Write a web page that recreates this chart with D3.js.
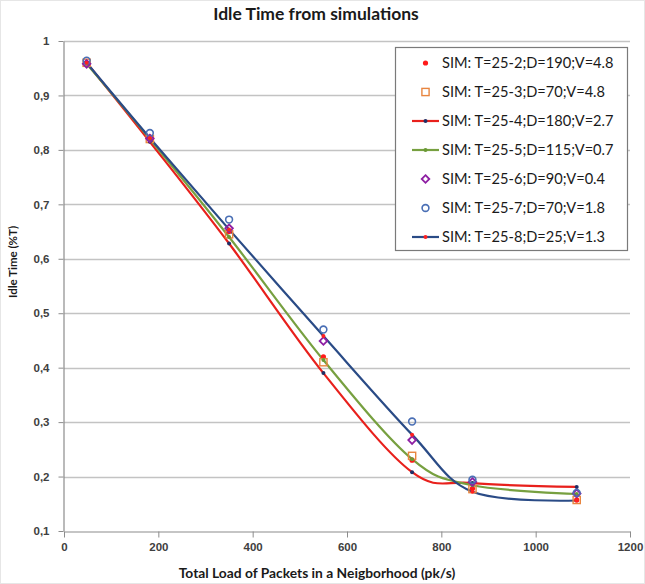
<!DOCTYPE html>
<html>
<head>
<meta charset="utf-8">
<script src="https://cdn.jsdelivr.net/npm/d3@7"></script>
<style>
  body { margin: 0; background: #fff; }
  svg { font-family: Lato, "Open Sans", sans-serif; }
</style>
</head>
<body>
<svg id="chart"></svg>
<script>
width = 645;
height = 584;
margin = ({ top: 41, right: 15, bottom: 53, left: 64 })

// loads (pk/s) at which the simulations were run
const loads = [48, 182, 350, 550, 738, 866, 1087];
const xTicks = [0, 200, 400, 600, 800, 1000, 1200];
const yTicks = [0.1, 0.2, 0.3, 0.4, 0.5, 0.6, 0.7, 0.8, 0.9, 1];

const names = [
    "SIM: T=25-2;D=190;V=4.8",
    "SIM: T=25-3;D=70;V=4.8",
    "SIM: T=25-4;D=180;V=2.7",
    "SIM: T=25-5;D=115;V=0.7",
    "SIM: T=25-6;D=90;V=0.4",
    "SIM: T=25-7;D=70;V=1.8",
    "SIM: T=25-8;D=25;V=1.3"
];

const sim2 = [0.96, 0.819, 0.65, 0.42, 0.23, 0.178, 0.157];
const sim3 = [0.96, 0.82, 0.645, 0.41, 0.238, 0.177, 0.157];
const sim4 = [0.96, 0.815, 0.628, 0.39, 0.208, 0.188, 0.181];
const sim5 = [0.958, 0.82, 0.64, 0.414, 0.232, 0.184, 0.168];
const sim6 = [0.958, 0.821, 0.656, 0.449, 0.267, 0.19, 0.169];
const sim7 = [0.964, 0.831, 0.672, 0.47, 0.301, 0.194, 0.17];
const sim8 = [0.96, 0.822, 0.654, 0.458, 0.277, 0.172, 0.156];

// how each series is drawn (line colour, marker type, marker colour)
const styles = [
    { line: null, marker: "dot", color: "#ff1a1a", r: 2.6 },
    { line: null, marker: "square", color: "#e8853f", r: 3.6 },
    { line: "#e8201c", marker: "dot", color: "#1f2f66", r: 2 },
    { line: "#77a040", marker: "dot", color: "#6a9a35", r: 2 },
    { line: null, marker: "diamond", color: "#8e1fa3", r: 3.8 },
    { line: null, marker: "circle", color: "#4a6fb5", r: 3.4 },
    { line: "#2a4b86", marker: "dot", color: "#ff2020", r: 2 }
];

const series = [sim2, sim3, sim4, sim5, sim6, sim7, sim8].map((vals, i) => ({
    name: names[i],
    style: styles[i],
    values: vals.map((v, j) => ({ x: loads[j], y: v }))
}));

const svg = d3.select("#chart")
    .attr("width", width)
    .attr("height", height);

x = d3.scaleLinear()
    .domain([0, 1200])
    .range([margin.left, width - margin.right])

y = d3.scaleLinear()
    .domain([0.1, 1])
    .range([height - margin.bottom, margin.top])

const fmt = d => d === 1 ? "1" : d.toFixed(1).replace(".", ",");

// faint outer frame
svg.append("rect")
    .attr("x", 0.5).attr("y", 0.5)
    .attr("width", width - 1).attr("height", height - 1)
    .attr("fill", "none")
    .attr("stroke", "#e6e6e6");

// gridlines
svg.append("g")
    .selectAll("line")
    .data(yTicks.slice(1))
    .join("line")
    .attr("x1", margin.left)
    .attr("x2", width - margin.right)
    .attr("y1", d => Math.round(y(d)) + 0.5)
    .attr("y2", d => Math.round(y(d)) + 0.5)
    .attr("stroke", "#c3c3c3")
    .attr("stroke-width", 1.3);

// x axis
xAxis = g =>
    g
        .attr("transform", `translate(0, ${Math.round(y(0.1)) + 0.5})`)
        .call(d3.axisBottom(x).tickValues(xTicks).tickFormat(d3.format("d")).tickSize(6).tickSizeOuter(0).tickPadding(5))
        .call(g => g.select(".domain").attr("stroke", "#8c8c8c").attr("stroke-width", 1.2))
        .call(g => g.selectAll(".tick line").attr("stroke", "#8c8c8c"))
        .call(g => g.selectAll(".tick text")
            .attr("fill", "#404040")
            .attr("font-size", 11.5)
            .attr("font-weight", "bold"))

yAxis = g =>
    g
        .attr("transform", `translate(${margin.left - 0.5}, 0)`)
        .call(d3.axisLeft(y).tickValues(yTicks).tickFormat(fmt).tickSize(5).tickSizeOuter(0).tickPadding(9))
        .call(g => g.select(".domain").attr("stroke", "#8c8c8c").attr("stroke-width", 1.2))
        .call(g => g.selectAll(".tick line").attr("stroke", "#8c8c8c"))
        .call(g => g.selectAll(".tick text")
            .attr("fill", "#404040")
            .attr("font-size", 11.5)
            .attr("font-weight", "bold"))

svg.append("g").call(xAxis);
svg.append("g").call(yAxis);

// lines (Excel-style smoothed)
const line = d3.line()
    .x(d => x(d.x))
    .y(d => y(d.y))
    .curve(d3.curveCatmullRom.alpha(0));

svg.append("g")
    .selectAll("path")
    .data(series.filter(s => s.style.line))
    .join("path")
    .attr("d", d => line(d.values))
    .attr("fill", "none")
    .attr("stroke", d => d.style.line)
    .attr("stroke-width", 2.2);

function drawMarker(g, st, cx, cy) {
    if (st.marker === "dot") {
        g.append("circle").attr("cx", cx).attr("cy", cy).attr("r", st.r)
            .attr("fill", st.color);
    } else if (st.marker === "square") {
        g.append("rect").attr("x", cx - st.r).attr("y", cy - st.r)
            .attr("width", st.r * 2).attr("height", st.r * 2)
            .attr("fill", "none").attr("stroke", st.color).attr("stroke-width", 1.4);
    } else if (st.marker === "diamond") {
        const r = st.r;
        g.append("path")
            .attr("d", `M${cx},${cy - r}L${cx + r},${cy}L${cx},${cy + r}L${cx - r},${cy}Z`)
            .attr("fill", "none").attr("stroke", st.color).attr("stroke-width", 1.8);
    } else {
        g.append("circle").attr("cx", cx).attr("cy", cy).attr("r", st.r)
            .attr("fill", "none").attr("stroke", st.color).attr("stroke-width", 1.6);
    }
}

const markers = svg.append("g");
series.forEach(s => {
    s.values.forEach(d => drawMarker(markers, s.style, x(d.x), y(d.y)));
});

// legend
const legend = svg.append("g");
legend.append("rect")
    .attr("x", 395.5).attr("y", 47.5)
    .attr("width", 232).attr("height", 203)
    .attr("fill", "#fff")
    .attr("stroke", "#7a7a7a")
    .attr("stroke-width", 1.2);

series.forEach((s, i) => {
    const cy = 63 + i * 29;
    if (s.style.line) {
        legend.append("line")
            .attr("x1", 412).attr("x2", 439)
            .attr("y1", cy).attr("y2", cy)
            .attr("stroke", s.style.line)
            .attr("stroke-width", 2.2);
    }
    drawMarker(legend, s.style, 425.5, cy);
    legend.append("text")
        .attr("x", 442)
        .attr("y", cy)
        .attr("dy", "0.35em")
        .attr("font-size", 14.6)
        .attr("fill", "#1a1a1a")
        .text(s.name);
});

// titles
svg.append("text")
    .attr("x", 316)
    .attr("y", 20)
    .attr("text-anchor", "middle")
    .attr("font-size", 17.5)
    .attr("font-weight", "bold")
    .attr("fill", "#1a1a1a")
    .text("Idle Time from simulations");

svg.append("text")
    .attr("x", 317)
    .attr("y", 578)
    .attr("text-anchor", "middle")
    .attr("font-size", 13.8)
    .attr("font-weight", "bold")
    .attr("fill", "#1a1a1a")
    .text("Total Load of Packets in a Neigborhood (pk/s)");

svg.append("text")
    .attr("transform", `translate(17, 262) rotate(-90)`)
    .attr("text-anchor", "middle")
    .attr("font-size", 11.5)
    .attr("font-weight", "bold")
    .attr("fill", "#1a1a1a")
    .text("Idle Time (%T)");
</script>
</body>
</html>
